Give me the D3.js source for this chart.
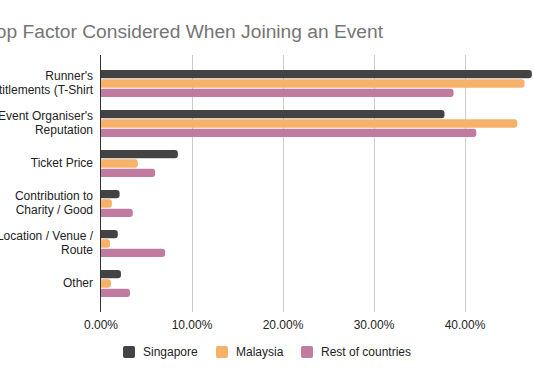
<!DOCTYPE html>
<html>
<head>
<meta charset="utf-8">
<script src="https://cdn.jsdelivr.net/npm/d3@7"></script>
<style>
  body { margin: 0; background: #fff; }
  svg { font-family: "Liberation Sans", Arial, sans-serif; }
</style>
</head>
<body>
<div id="chart"></div>
<script>
const categories = [
  ["Runner's", "Entitlements (T-Shirt"],
  ["Event Organiser's", "Reputation"],
  ["Ticket Price"],
  ["Contribution to", "Charity / Good"],
  ["Location / Venue /", "Route"],
  ["Other"]
];
const seriesNames = ["Singapore", "Malaysia", "Rest of countries"];
const singapore = [47.4, 37.8, 8.5, 2.1, 1.9, 2.25];
const malaysia = [46.6, 45.8, 4.1, 1.25, 1.05, 1.15];
const restOfCountries = [38.8, 41.3, 6.0, 3.55, 7.1, 3.25];
const xTicks = [0, 10, 20, 30, 40];
const colors = ["#434343", "#f6b26b", "#c27ba0"];

const width = 534, height = 378;
const plotTop = 55, plotBottom = 312;

const svg = d3.select('#chart').append('svg')
  .attr('width', width)
  .attr('height', height);

// title runs off the left edge, as in the original
svg.append('text')
  .attr('x', 383)
  .attr('y', 38)
  .attr('text-anchor', 'end')
  .attr('font-size', 19.2)
  .attr('fill', '#757575')
  .text('Top Factor Considered When Joining an Event');

const xScale = d3.scaleLinear().domain([0, 10]).range([100.5, 191.5]);
const keys = categories.map((c, i) => i);
const yScale = d3.scaleBand().domain(keys).range([63, 303]);
const yInner = d3.scaleBand().domain(seriesNames).range([7, 34]).paddingInner(0.11);

const data = keys.map(i => ({
  i,
  values: [singapore[i], malaysia[i], restOfCountries[i]]
}));

// gridlines
svg.append('g')
  .selectAll('line')
  .data(xTicks.slice(1))
  .join('line')
  .attr('x1', d => Math.round(xScale(d)) + 0.5)
  .attr('x2', d => Math.round(xScale(d)) + 0.5)
  .attr('y1', plotTop)
  .attr('y2', plotBottom)
  .attr('stroke', '#cccccc');

// bars, right ends rounded
const r = 3;
function barPath(x0, x1, y, h) {
  return `M${x0},${y}H${x1 - r}A${r},${r} 0 0 1 ${x1},${y + r}V${y + h - r}A${r},${r} 0 0 1 ${x1 - r},${y + h}H${x0}Z`;
}

const groups = svg.append('g')
  .selectAll('g')
  .data(data)
  .join('g')
  .attr('transform', d => `translate(0,${yScale(d.i)})`);

groups.selectAll('path')
  .data(d => d.values.map((v, j) => ({ v, j })))
  .join('path')
  .attr('d', d => barPath(xScale(0), xScale(d.v), yInner(seriesNames[d.j]), yInner.bandwidth()))
  .attr('fill', d => colors[d.j]);

// zero axis line
svg.append('line')
  .attr('x1', xScale(0))
  .attr('x2', xScale(0))
  .attr('y1', plotTop)
  .attr('y2', plotBottom)
  .attr('stroke', '#333333');

// x tick labels
const xAxis = d3.axisBottom(xScale)
  .tickValues(xTicks)
  .tickSize(0)
  .tickPadding(0)
  .tickFormat(d => d.toFixed(2) + '%');

svg.append('g')
  .attr('class', 'axis x-axis')
  .attr('transform', `translate(0,${320})`)
  .call(xAxis)
  .call(g => g.select('.domain').remove())
  .selectAll('text')
  .attr('font-size', 12)
  .attr('font-family', '"Liberation Sans", Arial, sans-serif')
  .attr('fill', '#222222');

// category labels
const labels = svg.append('g')
  .selectAll('text')
  .data(data)
  .join('text')
  .attr('text-anchor', 'end')
  .attr('font-size', 12)
  .attr('fill', '#222222')
  .attr('transform', d => `translate(93,${yScale(d.i) + yScale.bandwidth() / 2})`);

labels.selectAll('tspan')
  .data(d => categories[d.i].map((t, k, arr) => ({ t, k, n: arr.length })))
  .join('tspan')
  .attr('x', 0)
  .attr('y', d => (d.k - (d.n - 1) / 2) * 14 + 4)
  .text(d => d.t);

// legend
const legendX = [123, 216, 301];
const legend = svg.append('g')
  .selectAll('g')
  .data(seriesNames)
  .join('g')
  .attr('transform', (d, i) => `translate(${legendX[i]},346)`);

legend.append('rect')
  .attr('width', 12)
  .attr('height', 12)
  .attr('rx', 2)
  .attr('fill', (d, i) => colors[i]);

legend.append('text')
  .attr('x', 20)
  .attr('y', 10)
  .attr('font-size', 12)
  .attr('fill', '#222222')
  .text(d => d);
</script>
</body>
</html>
